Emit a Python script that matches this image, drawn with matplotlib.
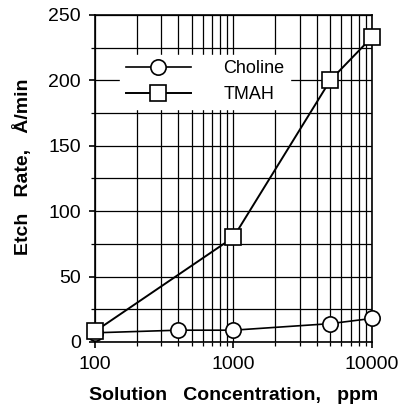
#!/usr/bin/env python3.12
"""Etch rate vs solution concentration for Choline and TMAH."""

import matplotlib.pyplot as plt
from matplotlib.ticker import FixedLocator, LogLocator, NullFormatter

CHOLINE_PPM = [100, 400, 1000, 5000, 10000]
CHOLINE_RATE = [7, 9, 9, 14, 18]
TMAH_PPM = [100, 1000, 5000, 10000]
TMAH_RATE = [8, 80, 200, 233]
X_TICKS = [100, 1000, 10000]
X_TICK_LABELS = ["100", "1000", "10000"]
Y_TICKS = [0, 50, 100, 150, 200, 250]


def main() -> None:
    plt.rcParams["font.family"] = ["Liberation Sans", "DejaVu Sans"]

    fig = plt.figure(figsize=(4.07, 4.13), dpi=100)
    ax = fig.add_axes([0.233, 0.172, 0.681, 0.792])

    ax.set_xscale("log")
    ax.set_xlim(100, 10000)
    ax.set_ylim(0, 250)

    ax.xaxis.set_major_locator(FixedLocator(X_TICKS))
    ax.set_xticklabels(X_TICK_LABELS)
    ax.xaxis.set_minor_locator(LogLocator(base=10, subs=range(2, 10)))
    ax.xaxis.set_minor_formatter(NullFormatter())
    ax.set_yticks(Y_TICKS)
    ax.yaxis.set_minor_locator(FixedLocator(range(25, 250, 50)))

    ax.grid(True, which="both", color="black", lw=0.9)
    ax.set_axisbelow(True)

    ax.plot(CHOLINE_PPM, CHOLINE_RATE, color="black", lw=1.2, marker="o",
            ms=11, mfc="white", mec="black", mew=1.2, label="Choline",
            zorder=3, clip_on=False)
    ax.plot(TMAH_PPM, TMAH_RATE, color="black", lw=1.4, marker="s",
            ms=11, mfc="white", mec="black", mew=1.2, label="TMAH",
            zorder=4, clip_on=False)

    for spine in ax.spines.values():
        spine.set_linewidth(1.2)
    ax.tick_params(which="major", length=4, width=1.2, labelsize=14,
                   direction="out", pad=6)
    ax.tick_params(which="minor", length=3, width=0.9)

    ax.set_xlabel("Solution   Concentration,   ppm", fontsize=14,
                  fontweight="bold", labelpad=10)
    ax.set_ylabel("Etch   Rate,   Å/min", fontsize=14, fontweight="bold")
    ax.yaxis.set_label_coords(-0.225, 0.535)

    leg = ax.legend(loc="upper left", bbox_to_anchor=(0.06, 0.905),
                    frameon=True, fontsize=13, handlelength=3.6,
                    handletextpad=1.8, borderpad=0.3, labelspacing=0.5,
                    fancybox=False)
    leg.get_frame().set_edgecolor("white")
    leg.get_frame().set_alpha(1.0)

    fig.savefig("out.png", facecolor="white")


if __name__ == "__main__":
    main()
